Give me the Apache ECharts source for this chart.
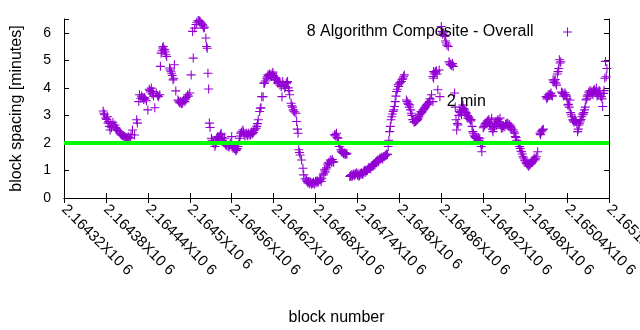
<!DOCTYPE html>
<html><head><meta charset="utf-8">
<script src="https://cdn.jsdelivr.net/npm/echarts@6/dist/echarts.min.js"></script>
<style>html,body{margin:0;padding:0;background:#fff}#c{width:640px;height:330px}</style>
</head><body><div id="c"></div>
<script>
const seriesName = '8 Algorithm Composite - Overall';
const xAxisName = 'block number';
const yAxisName = 'block spacing [minutes]';
const xMin = 2164320, xMax = 2165100, xStep = 60;
const yMin = 0, yMax = 6.5, yStep = 1;
const thresholdMinutes = 2;
const thresholdLabel = '2 min';
const thresholdLabelAt = [2164867, 3.49];
// [block number, spacing in minutes]
const samples = [
[2164376,3.16],[2164377,3.08],[2164378,3.02],[2164380,2.9],[2164381,2.85],[2164382,2.95],[2164383,2.72],[2164384,2.78],[2164385,2.6],[2164386,2.47],[2164387,2.7],[2164388,2.55],[2164390,2.75],[2164391,2.62],[2164393,2.65],[2164394,2.55],[2164395,2.53],[2164396,2.48],[2164397,2.45],[2164399,2.41],[2164400,2.36],[2164401,2.33],[2164402,2.29],[2164404,2.27],[2164405,2.25],[2164407,2.23],[2164408,2.2],[2164409,2.17],[2164410,2.2],[2164411,2.15],[2164412,2.22],[2164414,2.19],[2164415,2.18],[2164416,2.3],[2164418,2.47],[2164421,2.29],[2164424,2.84],[2164425,2.72],
[2164427,3.5],[2164428,3.75],[2164430,3.62],[2164431,3.7],[2164433,3.65],[2164434,3.58],[2164435,3.65],[2164436,3.6],[2164438,3.53],[2164440,3.2],[2164442,3.95],[2164443,3.9],[2164444,3.85],[2164445,3.99],[2164446,3.78],[2164447,3.87],[2164448,3.7],[2164450,3.28],[2164452,3.81],[2164454,3.72],[2164455,3.68],[2164457,3.75],[2164458,4.78],[2164459,5.26],[2164460,5.35],[2164461,5.45],[2164462,5.5],[2164463,5.4],[2164464,5.38],[2164465,5.3],[2164466,5.2],[2164467,5.14],[2164471,4.72],[2164472,4.65],[2164473,4.6],[2164474,4.53],[2164475,4.45],[2164476,4.29],[2164477,4.35],[2164478,4.84],[2164480,3.89],[2164483,3.56],[2164484,3.52],[2164485,3.48],[2164486,3.45],[2164487,3.5],[2164488,3.44],[2164489,3.42],[2164490,3.47],[2164491,3.55],[2164493,3.5],[2164494,3.6],[2164495,3.65],[2164497,3.75],[2164498,3.7],[2164500,3.81],[2164502,4.47],[2164504,6.05],[2164505,5.08],[2164507,6.17],[2164509,6.3],[2164510,6.38],[2164512,6.44],[2164513,6.45],[2164514,6.42],[2164515,6.4],[2164517,6.35],[2164518,6.3],[2164519,6.25],[2164520,6.17],[2164521,6.2],[2164523,5.81],[2164524,5.5],[2164525,5.44],[2164526,4.53],[2164527,3.96],[2164528,2.72],[2164529,2.56],
[2164531,2.17],[2164532,2.1],[2164533,2.05],[2164534,2.0],[2164536,1.87],[2164537,1.95],[2164538,2.05],[2164539,2.15],[2164540,2.23],[2164541,2.2],[2164542,2.12],[2164543,2.25],[2164544,2.3],[2164545,2.35],[2164546,2.2],[2164547,2.1],[2164548,2.05],[2164549,2.0],[2164550,2.17],[2164551,1.95],[2164552,1.92],[2164553,1.9],[2164555,1.87],[2164556,1.85],[2164557,1.92],[2164558,2.0],[2164560,2.23],[2164561,1.9],[2164562,1.81],[2164563,1.85],[2164564,1.8],[2164565,1.78],[2164566,1.72],[2164567,1.75],[2164568,1.8],[2164569,1.87],[2164570,1.95],[2164571,2.17],[2164572,2.25],[2164573,2.35],[2164574,2.4],[2164576,2.47],[2164577,2.4],[2164578,2.3],[2164579,2.25],[2164581,2.35],[2164582,2.3],[2164583,2.25],[2164584,2.35],[2164586,2.29],[2164587,2.3],[2164588,2.4],[2164589,2.32],[2164590,2.35],[2164591,2.38],[2164592,2.45],[2164593,2.5],[2164595,2.53],[2164596,2.6],[2164597,2.7],[2164598,2.84],[2164600,3.14],[2164601,3.26],[2164602,3.28],[2164603,3.68],[2164605,3.68],[2164606,4.17],
[2164607,4.17],[2164608,4.25],[2164610,4.35],[2164611,4.4],[2164612,4.47],[2164613,4.45],[2164614,4.5],[2164615,4.42],[2164616,4.48],[2164617,4.41],[2164618,4.52],[2164619,4.57],[2164620,4.45],[2164621,4.29],[2164622,4.38],[2164623,4.3],[2164624,4.35],[2164625,4.28],[2164626,4.17],[2164627,4.2],[2164628,4.22],[2164629,4.1],[2164631,4.05],[2164632,3.68],[2164633,4.23],[2164634,4.1],[2164636,3.99],[2164637,4.05],[2164638,4.15],[2164639,4.2],[2164640,4.23],[2164641,4.0],[2164642,3.9],[2164643,3.75],[2164645,3.44],[2164646,3.35],[2164647,3.3],[2164648,3.2],[2164649,3.15],[2164650,3.12],[2164652,3.08],[2164653,2.78],[2164654,2.5],[2164655,2.35],[2164656,1.75],[2164657,1.65],[2164658,1.56],[2164660,1.38],[2164662,1.08],[2164663,0.84],[2164665,0.7],[2164667,0.65],[2164668,0.6],[2164669,0.55],[2164670,0.6],[2164671,0.52],[2164672,0.59],[2164673,0.56],[2164674,0.5],[2164675,0.55],[2164676,0.53],[2164677,0.58],[2164678,0.5],[2164679,0.53],[2164680,0.6],[2164681,0.62],[2164682,0.55],[2164683,0.62],[2164684,0.58],[2164686,0.65],[2164687,0.68],[2164688,0.6],[2164689,0.72],[2164691,0.84],[2164692,0.9],[2164693,1.02],[2164694,0.95],[2164695,1.05],[2164696,1.1],[2164697,1.2],[2164698,1.26],[2164699,1.3],[2164700,1.25],[2164701,1.38],[2164702,1.35],[2164703,1.3],[2164704,1.4],[2164705,1.32],[2164706,1.3],
[2164707,2.29],[2164708,2.3],[2164709,2.25],[2164710,2.35],[2164711,2.2],[2164712,2.17],[2164713,2.0],[2164714,1.87],[2164716,1.75],[2164717,1.7],[2164718,1.65],[2164719,1.68],[2164720,1.62],[2164721,1.6],[2164722,1.65],[2164723,1.58],[2164724,1.62],[2164725,1.6],[2164729,0.78],[2164730,0.82],[2164731,0.78],[2164732,0.85],[2164733,0.8],[2164734,0.84],[2164735,0.88],[2164736,0.82],[2164737,0.86],[2164738,0.9],[2164739,0.92],[2164740,0.84],[2164741,0.8],[2164742,0.87],[2164743,0.81],[2164744,0.9],[2164745,0.85],[2164746,0.92],[2164747,0.88],[2164748,0.86],[2164749,0.95],[2164750,1.0],[2164751,0.93],[2164752,1.02],[2164753,0.98],[2164754,1.0],[2164755,1.05],[2164756,1.1],[2164757,1.08],[2164758,1.12],[2164759,1.05],[2164760,1.15],[2164761,1.18],[2164762,1.14],[2164763,1.2],[2164764,1.25],[2164765,1.22],[2164766,1.3],[2164767,1.32],[2164768,1.35],[2164769,1.38],[2164770,1.32],[2164771,1.4],[2164772,1.44],[2164773,1.42],[2164774,1.45],[2164775,1.48],[2164776,1.42],[2164777,1.5],[2164778,1.5],[2164779,1.52],[2164780,1.55],[2164781,1.56],[2164782,1.6],[2164783,1.58],[2164784,1.87],[2164785,2.1],[2164786,2.41],[2164787,2.6],[2164788,2.84],[2164789,2.95],[2164790,3.05],[2164791,3.14],[2164792,3.2],[2164793,3.32],[2164794,3.5],[2164795,3.7],[2164796,3.87],[2164797,3.95],[2164798,4.11],[2164799,4.05],[2164800,4.15],[2164801,4.2],[2164803,4.23],[2164804,4.3],[2164805,4.35],[2164806,4.4],[2164807,4.47],
[2164810,3.56],[2164811,3.5],[2164812,3.44],[2164813,3.4],[2164814,3.3],[2164815,3.38],[2164816,3.2],[2164817,3.08],[2164818,3.0],[2164819,2.84],[2164820,2.85],[2164821,2.75],[2164822,2.78],[2164823,2.78],[2164824,2.8],[2164825,2.82],[2164826,2.85],[2164827,2.9],[2164828,2.95],[2164829,3.02],[2164830,3.05],[2164831,3.14],[2164832,3.1],[2164833,3.15],[2164834,3.2],[2164835,3.22],[2164836,3.26],[2164837,3.3],[2164838,3.35],[2164839,3.38],[2164840,3.4],[2164841,3.44],[2164842,3.45],[2164843,3.5],[2164844,3.6],[2164846,3.75],[2164848,4.41],[2164848,3.5],[2164849,4.59],[2164849,4.35],[2164850,4.5],[2164851,4.55],[2164852,4.59],[2164853,4.62],[2164854,4.5],[2164855,3.93],[2164857,4.65],[2164858,3.68],[2164860,6.23],[2164861,6.05],[2164862,5.95],[2164863,6.0],[2164865,5.87],[2164866,5.7],[2164867,5.63],[2164868,5.55],[2164870,5.5],[2164871,4.95],[2164872,4.9],[2164873,4.85],[2164874,4.84],[2164875,4.8],[2164876,4.88],[2164877,4.78],[2164879,3.81],[2164880,3.3],[2164881,2.84],[2164882,2.47],[2164883,2.7],[2164884,2.65],[2164885,3.0],[2164886,3.14],[2164887,3.1],[2164888,3.2],[2164889,3.02],[2164890,3.3],[2164891,3.38],[2164892,3.25],[2164893,3.2],[2164894,3.15],[2164895,3.1],[2164896,3.08],[2164897,3.0],[2164898,2.9],[2164899,2.95],[2164900,2.9],[2164901,2.85],[2164902,2.8],[2164903,2.84],[2164904,2.6],[2164905,2.41],[2164906,2.35],[2164907,2.28],[2164908,2.23],[2164909,2.2],[2164910,2.17],[2164911,2.15],[2164912,2.1],[2164913,2.2],[2164914,2.1],[2164915,2.17],[2164916,2.0],[2164917,1.87],[2164918,1.68],[2164919,1.95],
[2164920,2.55],[2164921,2.6],[2164922,2.65],[2164923,2.7],[2164924,2.72],[2164925,2.75],[2164926,2.8],[2164927,2.78],[2164928,2.85],[2164929,2.7],[2164930,2.65],[2164931,2.6],[2164932,2.9],[2164933,2.5],[2164934,2.41],[2164935,2.55],[2164936,2.6],[2164937,2.7],[2164938,2.75],[2164939,2.65],[2164940,2.8],[2164941,2.85],[2164942,2.78],[2164943,2.72],[2164944,2.9],[2164945,2.65],[2164946,2.53],[2164947,2.6],[2164948,2.55],[2164949,2.62],[2164951,2.59],[2164952,2.68],[2164953,2.7],[2164954,2.65],[2164955,2.72],[2164956,2.6],[2164957,2.68],[2164958,2.65],[2164959,2.6],[2164960,2.55],[2164961,2.5],[2164963,2.47],[2164964,2.4],[2164965,2.35],[2164966,2.23],[2164967,2.2],[2164968,2.1],[2164970,1.99],[2164971,1.95],[2164972,1.87],[2164973,1.8],[2164974,1.7],[2164975,1.68],[2164976,1.6],[2164977,1.5],[2164978,1.45],[2164979,1.38],[2164980,1.35],[2164981,1.3],[2164982,1.25],[2164983,1.2],[2164984,1.26],[2164985,1.15],[2164986,1.2],[2164987,1.22],[2164988,1.25],[2164989,1.3],[2164990,1.35],[2164991,1.32],[2164992,1.4],[2164993,1.45],[2164994,1.38],[2164995,1.42],[2164996,1.5],[2164998,1.68],[2165001,2.35],[2165002,2.3],[2165003,2.4],[2165004,2.45],[2165005,2.47],[2165006,2.5],
[2165010,3.68],[2165011,3.6],[2165012,3.65],[2165013,3.75],[2165014,3.7],[2165015,3.75],[2165016,3.78],[2165017,3.81],[2165018,3.72],[2165019,3.7],[2165020,4.29],[2165021,4.2],[2165022,4.25],[2165023,4.3],[2165024,4.17],[2165025,4.1],[2165026,4.5],[2165027,4.59],[2165028,4.7],[2165029,5.02],[2165030,4.9],[2165031,4.95],[2165032,3.85],[2165033,3.81],[2165034,3.8],[2165035,3.7],[2165036,3.75],[2165037,3.82],[2165038,3.75],[2165039,3.7],[2165040,3.6],[2165041,3.38],[2165042,3.4],[2165043,3.3],[2165044,3.56],[2165045,3.1],[2165046,3.02],[2165047,2.95],[2165048,2.84],[2165049,2.8],[2165050,2.75],[2165051,2.85],[2165052,2.8],[2165053,2.78],[2165054,2.7],[2165055,2.41],[2165056,2.5],[2165057,2.65],[2165058,2.72],[2165059,2.8],[2165060,2.85],[2165061,2.95],[2165062,3.05],[2165063,3.02],[2165064,3.1],[2165065,3.2],[2165066,3.3],[2165067,3.56],[2165068,3.6],[2165069,3.7],[2165070,3.75],[2165071,3.85],[2165072,3.81],[2165073,3.9],[2165074,3.75],[2165075,3.85],[2165076,3.8],[2165077,3.75],[2165078,3.9],[2165079,3.95],[2165080,3.88],[2165081,3.82],[2165082,3.99],[2165083,3.7],[2165084,3.75],[2165085,3.8],[2165086,3.9],[2165087,3.81],[2165088,3.7],[2165089,3.68],[2165090,3.6],[2165091,3.32],[2165092,3.8],[2165093,3.9],[2165094,4.35],[2165095,4.96],[2165096,4.4],[2165097,4.7]
];

const FONT = 'Liberation Sans';
const PLUS = 'path://M4.4,0h1.2v4.4h4.4v1.2h-4.4v4.4h-1.2v-4.4h-4.4v-1.2h4.4z';
const purple = '#9400d3';

function xLabel(v) {
  return parseFloat((v / 1e6).toPrecision(6)).toString() + 'X10 6';
}

const chart = echarts.init(document.getElementById('c'), null, {renderer: 'canvas'});
const frameLine = {show: true, lineStyle: {color: '#000', width: 1}};
const frameTick = {show: true, inside: true, length: 5, lineStyle: {color: '#000', width: 1}};
chart.setOption({
  animation: false,
  backgroundColor: '#fff',
  textStyle: {fontFamily: FONT},
  grid: {left: 64, right: 31, top: 19, bottom: 132, containLabel: false, outerBoundsMode: 'none'},
  legend: {
    data: [seriesName], right: 68, top: 24, padding: 0, align: 'right',
    itemWidth: 58, itemHeight: 9, icon: PLUS, symbolKeepAspect: true,
    textStyle: {fontSize: 16, color: '#000', fontFamily: FONT}
  },
  xAxis: [{
    type: 'value', min: xMin, max: xMax, interval: xStep, position: 'bottom',
    axisLine: frameLine, axisTick: frameTick, splitLine: {show: false},
    axisLabel: {rotate: -45, margin: 9, fontSize: 15, color: '#000', fontFamily: FONT, formatter: xLabel},
    name: xAxisName, nameLocation: 'middle', nameGap: 112,
    nameTextStyle: {fontSize: 16, color: '#000', fontFamily: FONT}
  }, {
    type: 'value', min: xMin, max: xMax, interval: xStep, position: 'top',
    axisLine: frameLine, axisTick: frameTick, splitLine: {show: false}, axisLabel: {show: false}
  }],
  yAxis: [{
    type: 'value', min: yMin, max: yMax, interval: yStep, position: 'left',
    axisLine: frameLine, axisTick: frameTick, splitLine: {show: false},
    axisLabel: {margin: 13, fontSize: 14, color: '#000', fontFamily: FONT,
      formatter: v => Number.isInteger(v) ? String(v) : ''},
    name: yAxisName, nameLocation: 'middle', nameGap: 39,
    nameTextStyle: {fontSize: 16, color: '#000', fontFamily: FONT}
  }, {
    type: 'value', min: yMin, max: yMax, interval: yStep, position: 'right',
    axisLine: frameLine, axisTick: frameTick, splitLine: {show: false}, axisLabel: {show: false}
  }],
  series: [{
    name: seriesName, type: 'scatter', data: samples,
    symbol: PLUS, symbolSize: 9, symbolKeepAspect: true,
    itemStyle: {color: purple, opacity: 1}, z: 2, silent: true
  }, {
    name: 'threshold', type: 'line', data: [[xMin, thresholdMinutes], [xMax, thresholdMinutes]],
    symbol: 'none', lineStyle: {color: '#00ff00', width: 4}, z: 3, silent: true,
    markPoint: {
      symbol: 'circle', symbolSize: 1, itemStyle: {color: 'rgba(0,0,0,0)'},
      label: {show: true, position: 'right', distance: 0, formatter: thresholdLabel,
        fontSize: 16, color: '#000', fontFamily: FONT},
      data: [{coord: thresholdLabelAt}]
    }
  }]
});
</script></body></html>
